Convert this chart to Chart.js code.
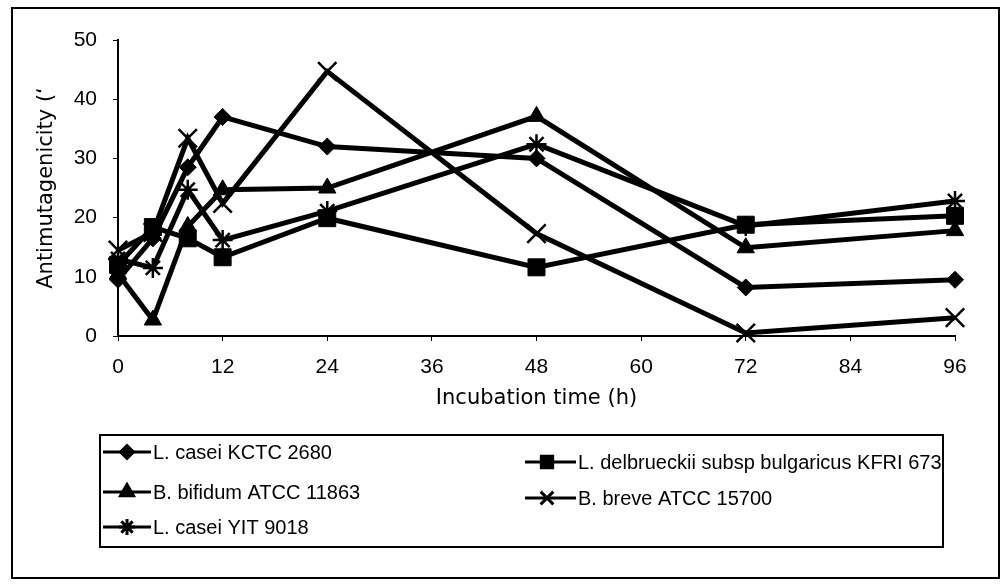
<!DOCTYPE html>
<html>
<head>
<meta charset="utf-8">
<script src="https://cdn.jsdelivr.net/npm/chart.js@4/dist/chart.umd.min.js"></script>
<style>
  html, body { margin: 0; padding: 0; background: #fff; }
  #wrap { width: 1002px; height: 586px; position: relative; }
</style>
</head>
<body>
<div id="wrap"><canvas id="c" width="1002" height="586"></canvas></div>
<script>
// ---- data ----
const hours = [0, 4, 8, 12, 24, 48, 72, 96];
const xTickValues = [0, 12, 24, 36, 48, 60, 72, 84, 96];
const yTickValues = [0, 10, 20, 30, 40, 50];
const caseiKCTC = [9.5, 16.5, 28.5, 37.0, 32.0, 30.0, 8.2, 9.5];
const delbrueckii = [12.0, 18.4, 16.5, 13.3, 19.9, 11.6, 18.8, 20.3];
const bifidum = [10.5, 2.7, 18.5, 24.7, 25.0, 37.1, 14.9, 17.8];
const breve = [14.5, 17.5, 33.4, 22.4, 44.7, 17.3, 0.5, 3.1];
const caseiYIT = [13.0, 11.5, 24.7, 16.2, 21.1, 32.4, 18.6, 22.8];
const seriesLabels = [
  'L. casei KCTC 2680',
  'L. delbrueckii subsp bulgaricus KFRI 673',
  'B. bifidum ATCC 11863',
  'B. breve ATCC 15700',
  'L. casei YIT 9018'
];
const xTitle = 'Incubation time (h)';
const yTitle = 'Antimutagenicity (\u2018';

// ---- styles ----
const markerStyles = [
  { pointStyle: 'rectRot', pointRadius: 8.5, pointBorderWidth: 1 },
  { pointStyle: 'rect', pointRadius: 12, pointBorderWidth: 1 },
  { pointStyle: 'triangle', pointRadius: 10, pointBorderWidth: 1 },
  { pointStyle: 'crossRot', pointRadius: 13, pointBorderWidth: 2.5 },
  { pointStyle: 'star', pointRadius: 10, pointBorderWidth: 2.5 }
];
const legendMarkers = [
  { pointStyle: 'rectRot', radius: 6.5 },
  { pointStyle: 'rect', radius: 8 },
  { pointStyle: 'triangle', radius: 7.5 },
  { pointStyle: 'crossRot', radius: 9 },
  { pointStyle: 'star', radius: 8 }
];
const legendSlots = [
  { x: 103, y: 452, len: 48, mx: 24 },
  { x: 525, y: 462, len: 51, mx: 22 },
  { x: 103, y: 492, len: 48, mx: 24 },
  { x: 525, y: 498, len: 51, mx: 22 },
  { x: 103, y: 527, len: 48, mx: 24 }
];

const seriesValues = [caseiKCTC, delbrueckii, bifidum, breve, caseiYIT];

const datasets = seriesValues.map((vals, i) => Object.assign({
  label: seriesLabels[i],
  data: hours.map((h, j) => ({ x: h, y: vals[j] })),
  borderColor: '#000',
  backgroundColor: '#000',
  pointBackgroundColor: '#000',
  pointBorderColor: '#000',
  borderWidth: 5,
  tension: 0,
  fill: false,
  clip: false
}, markerStyles[i]));

function drawMarker(ctx, style, x, y) {
  const opts = { pointStyle: style.pointStyle, radius: style.radius, rotation: 0, borderWidth: style.pointStyle.startsWith('cross') || style.pointStyle === 'star' ? 2.2 : 1 };
  if (Chart.helpers && Chart.helpers.drawPoint) {
    Chart.helpers.drawPoint(ctx, opts, x, y);
  } else {
    ctx.beginPath();
    ctx.arc(x, y, style.radius * 0.7, 0, Math.PI * 2);
    ctx.fill();
  }
}

const boxLegend = {
  id: 'boxLegend',
  afterDraw(chart) {
    const ctx = chart.ctx;
    ctx.save();
    ctx.strokeStyle = '#000';
    ctx.fillStyle = '#000';
    ctx.lineWidth = 2;
    ctx.strokeRect(12, 8, 987, 570);
    ctx.strokeRect(100, 435, 843, 112);
    ctx.font = '20px "Liberation Sans", Arial, sans-serif';
    ctx.textAlign = 'left';
    ctx.textBaseline = 'middle';
    legendSlots.forEach((slot, i) => {
      ctx.lineWidth = 3;
      ctx.beginPath();
      ctx.moveTo(slot.x, slot.y);
      ctx.lineTo(slot.x + slot.len, slot.y);
      ctx.stroke();
      drawMarker(ctx, legendMarkers[i], slot.x + slot.mx, slot.y);
      ctx.fillText(seriesLabels[i], slot.x + slot.len + 2, slot.y + 1);
    });
    ctx.restore();
  }
};

const tickFont = { family: '"Liberation Sans", Arial, sans-serif', size: 21 };
const titleFont = { family: '"DejaVu Sans", sans-serif', size: 21 };

new Chart(document.getElementById('c'), {
  type: 'line',
  data: { datasets },
  options: {
    responsive: false,
    animation: false,
    devicePixelRatio: 1,
    layout: { padding: { left: 0, right: 47, top: 40, bottom: 170 } },
    plugins: { legend: { display: false }, tooltip: { enabled: false } },
    scales: {
      x: {
        type: 'linear',
        min: 0,
        max: 96,
        afterBuildTicks: s => { s.ticks = xTickValues.map(v => ({ value: v })); },
        afterFit: s => { s.height = 80; },
        grid: { display: true, drawOnChartArea: false, drawTicks: true, tickLength: 5, color: '#000', lineWidth: 1 },
        border: { display: true, color: '#000', width: 2 },
        ticks: { color: '#000', font: tickFont, padding: 14, maxRotation: 0, autoSkip: false },
        title: { display: true, text: xTitle, color: '#000', font: titleFont, padding: { top: 0, bottom: 5 } }
      },
      y: {
        min: 0,
        max: 50,
        afterBuildTicks: s => { s.ticks = yTickValues.map(v => ({ value: v })); },
        afterFit: s => { s.width = 118; },
        grid: { display: true, drawOnChartArea: false, drawTicks: true, tickLength: 5, color: '#000', lineWidth: 1 },
        border: { display: true, color: '#000', width: 2 },
        ticks: { color: '#000', font: tickFont, padding: 16 },
        title: { display: true, text: yTitle, color: '#000', font: titleFont, padding: { top: 34, bottom: 0 } }
      }
    }
  },
  plugins: [boxLegend]
});
</script>
</body>
</html>
